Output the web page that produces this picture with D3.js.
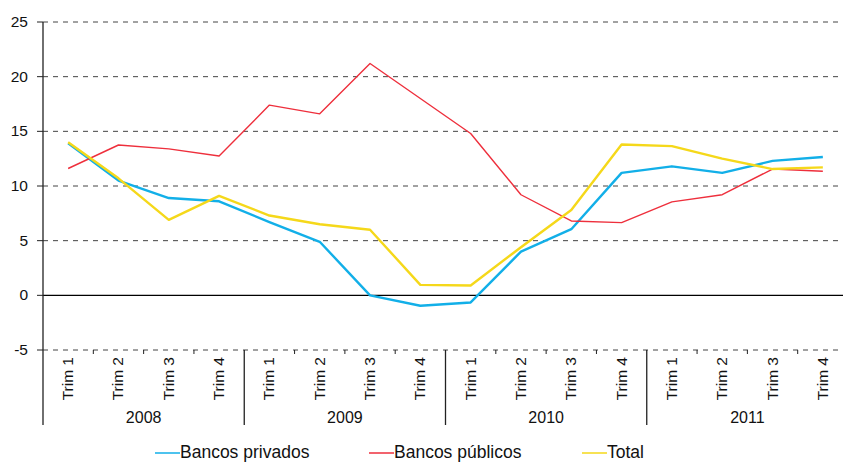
<!DOCTYPE html>
<html>
<head>
<meta charset="utf-8">
<script src="https://cdn.jsdelivr.net/npm/d3@7"></script>
<style>
  body { margin: 0; background: #fff; }
  svg text { font-family: "Liberation Sans", Arial, sans-serif; fill: #111; }
</style>
</head>
<body>
<div id="chart"></div>
<script>
const years = ["2008", "2009", "2010", "2011"];
const quarters = ["Trim 1", "Trim 2", "Trim 3", "Trim 4"];
const yTicks = [-5, 0, 5, 10, 15, 20, 25];

const privados = [13.9, 10.5, 8.9, 8.6, 6.7, 4.9, 0.0, -0.95, -0.65, 4.0, 6.05, 11.2, 11.8, 11.2, 12.3, 12.65];
const publicos = [11.6, 13.75, 13.4, 12.75, 17.4, 16.6, 21.2, 18.0, 14.8, 9.2, 6.8, 6.65, 8.55, 9.2, 11.55, 11.35];
const total = [14.0, 10.7, 6.9, 9.1, 7.3, 6.5, 6.0, 0.96, 0.9, 4.4, 7.8, 13.8, 13.65, 12.5, 11.55, 11.7];

const series = [
  { name: "Bancos privados", values: privados, color: "#12afe8", width: 2.4 },
  { name: "Bancos públicos", values: publicos, color: "#ee2f3c", width: 1.4 },
  { name: "Total", values: total, color: "#f5d81a", width: 2.4 }
];

const width = 843, height = 462;
const mLeft = 43, mRight = 848, mTop = 22, mBottom = 350;

const cats = [];
years.forEach(y => quarters.forEach(q => cats.push({ year: y, q: q })));

const x = d3.scaleBand().domain(d3.range(cats.length)).range([mLeft, mRight]);
const y = d3.scaleLinear().domain([-5, 25]).range([mBottom, mTop]);

const svg = d3.select("#chart").append("svg")
  .attr("width", width)
  .attr("height", height);

// grid lines
svg.selectAll(".grid")
  .data(yTicks.filter(d => d !== 0))
  .join("line")
  .attr("x1", mLeft).attr("x2", width)
  .attr("y1", d => y(d)).attr("y2", d => y(d))
  .attr("stroke", "#444")
  .attr("stroke-width", 1)
  .attr("stroke-dasharray", "5,5");

// zero line
svg.append("line")
  .attr("x1", mLeft).attr("x2", width)
  .attr("y1", y(0)).attr("y2", y(0))
  .attr("stroke", "#000")
  .attr("stroke-width", 1.3);

// y axis
svg.append("line")
  .attr("x1", mLeft).attr("x2", mLeft)
  .attr("y1", mTop).attr("y2", 425)
  .attr("stroke", "#222")
  .attr("stroke-width", 1.3);

svg.selectAll(".ytick")
  .data(yTicks)
  .join("line")
  .attr("x1", mLeft - 6).attr("x2", mLeft)
  .attr("y1", d => y(d)).attr("y2", d => y(d))
  .attr("stroke", "#222");

svg.selectAll(".ylab")
  .data(yTicks)
  .join("text")
  .attr("x", 28)
  .attr("y", d => y(d) + 5)
  .attr("text-anchor", "end")
  .style("font-size", "15.5px")
  .text(d => d);

// x ticks between quarters
svg.selectAll(".xtick")
  .data(d3.range(1, cats.length).filter(i => i % 4 !== 0))
  .join("line")
  .attr("x1", i => x(i)).attr("x2", i => x(i))
  .attr("y1", mBottom).attr("y2", mBottom + 4)
  .attr("stroke", "#222");

// year separators
svg.selectAll(".ysep")
  .data(d3.range(4, cats.length, 4))
  .join("line")
  .attr("x1", i => x(i)).attr("x2", i => x(i))
  .attr("y1", mBottom).attr("y2", 425)
  .attr("stroke", "#222")
  .attr("stroke-width", 1.3);

// quarter labels
svg.selectAll(".qlab")
  .data(cats)
  .join("text")
  .attr("transform", (d, i) => `translate(${x(i) + x.bandwidth() / 2 + 5},357) rotate(-90)`)
  .attr("text-anchor", "end")
  .style("font-size", "15.5px")
  .text(d => d.q);

// year labels
svg.selectAll(".yearlab")
  .data(years)
  .join("text")
  .attr("x", (d, i) => (x(i * 4) + x(i * 4 + 3) + x.bandwidth()) / 2)
  .attr("y", 423)
  .attr("text-anchor", "middle")
  .style("font-size", "16px")
  .text(d => d);

// lines
const line = d3.line()
  .x((d, i) => x(i) + x.bandwidth() / 2)
  .y(d => y(d));

svg.selectAll(".series")
  .data(series)
  .join("path")
  .attr("d", d => line(d.values))
  .attr("fill", "none")
  .attr("stroke", d => d.color)
  .attr("stroke-width", d => d.width)
  .attr("stroke-linejoin", "round");

// legend
const legendX = [155, 369, 582];
const lg = svg.selectAll(".legend")
  .data(series)
  .join("g")
  .attr("transform", (d, i) => `translate(${legendX[i]},453)`);

lg.append("line")
  .attr("x1", 0).attr("x2", 25)
  .attr("stroke", d => d.color)
  .attr("stroke-width", 1.5);

lg.append("text")
  .attr("x", 25)
  .attr("y", 5)
  .style("font-size", "17.5px")
  .text(d => d.name);
</script>
</body>
</html>
